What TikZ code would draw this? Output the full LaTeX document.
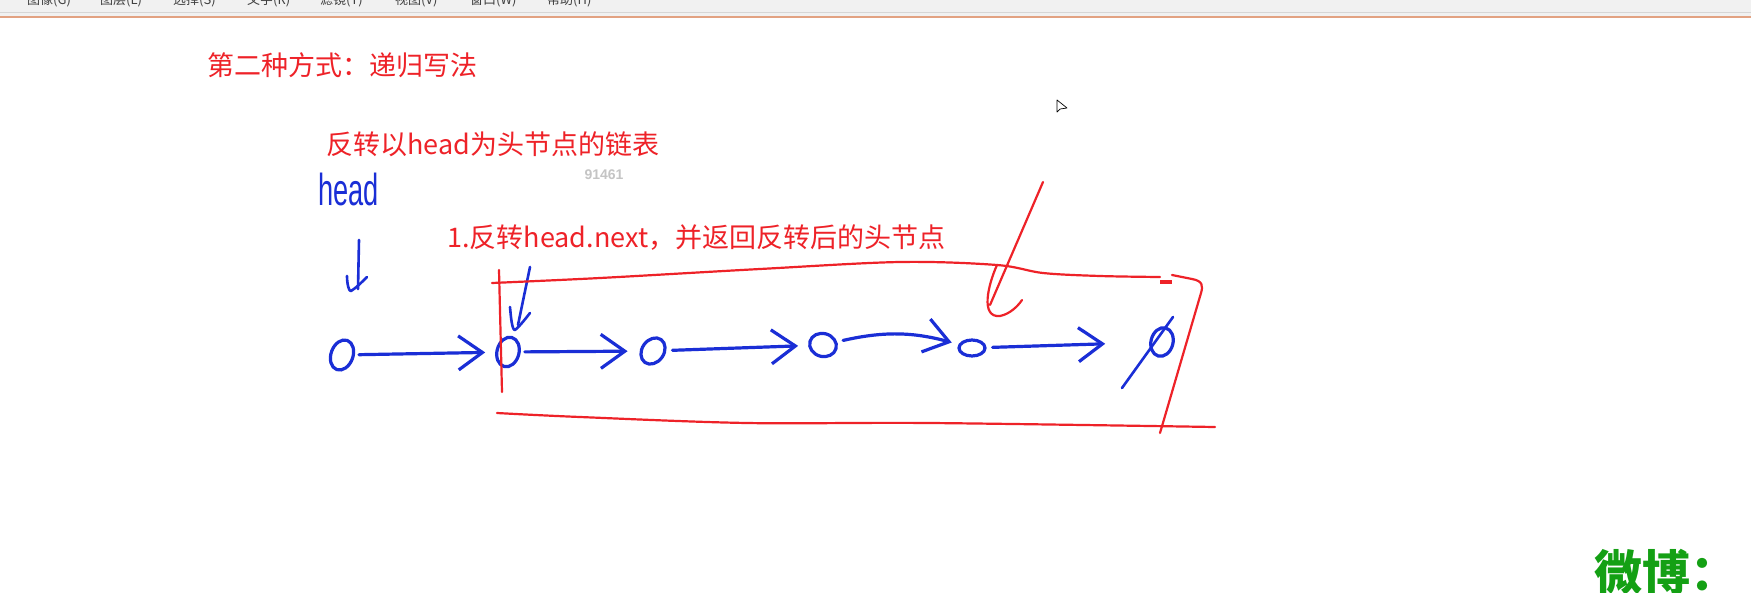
\documentclass[tikz,border=0pt]{standalone}
\usepackage{fontspec}
\setmainfont{Liberation Sans}
\newfontfamily\cjk{Noto Sans CJK SC}
\usetikzlibrary{arrows.meta,shapes.geometric,calc}
\definecolor{pen}{HTML}{1A2ED6}
\definecolor{ink}{HTML}{EE2228}
\definecolor{wb}{HTML}{14A014}
\definecolor{menubg}{HTML}{F1F1F1}
\definecolor{menuline}{HTML}{D6D6D6}
\definecolor{orangeline}{HTML}{E2A282}
\definecolor{faint}{HTML}{C4C4C4}
\begin{document}
\begin{tikzpicture}[x=1pt,y=-1pt,
  bluenode/.style={ellipse, draw=pen, line width=3.2pt, inner sep=0pt},
  link/.style={draw=pen, line width=3.2pt, line cap=round, line join=round,
    -{Straight Barb[length=24pt,width=34pt]}},
  bluestroke/.style={draw=pen, line width=2.6pt, line cap=round, line join=round},
  redline/.style={draw=ink, line width=2.2pt, line cap=round, line join=round},
  redtext/.style={text=ink, font=\cjk\fontsize{27}{30}\selectfont, inner sep=0pt, anchor=west},
  menuitem/.style={font=\cjk\fontsize{13}{15}\selectfont, text=black!75, anchor=base west, inner sep=0pt}]
\useasboundingbox (0,0) rectangle (1751,592);
\clip (0,0) rectangle (1751,592);
% background and menu bar
\fill[white] (0,0) rectangle (1751,592);
\fill[menubg] (0,0) rectangle (1751,16.5);
\draw[menuline, line width=0.8pt] (0,12.5) -- (1751,12.5);
\draw[orangeline, line width=1.2pt] (0,17) -- (1751,17);
\node[menuitem] (m1) at (27,4.5) {图像(G)};
\node[menuitem] (m2) at (100,4.5) {图层(L)};
\node[menuitem] (m3) at (173,4.5) {选择(S)};
\node[menuitem] (m4) at (247,4.5) {文字(R)};
\node[menuitem] (m5) at (320,4.5) {滤镜(T)};
\node[menuitem] (m6) at (395,4.5) {视图(V)};
\node[menuitem] (m7) at (470,4.5) {窗口(W)};
\node[menuitem] (m8) at (547,4.5) {帮助(H)};
% texts
\node[redtext] (title) at (207,65) {第二种方式：递归写法};
\node[redtext] (t1) at (326,144) {反转以head为头节点的链表};
\node[redtext] (t2) at (447,238) {1.反转head.next，并返回反转后的头节点};
\node[text=faint, font=\bfseries\fontsize{14}{16}\selectfont, inner sep=0pt] (wm) at (604,175) {91461};
\node[text=pen, font=\fontsize{40}{44}\selectfont, anchor=base west, inner sep=0pt] (headlbl) at (318,205) {\scalebox{0.68}[1.12]{head}};
\node[text=wb, font=\cjk\bfseries\fontsize{48}{52}\selectfont, anchor=base west, inner sep=0pt] (weibo) at (1594,590) {微博：};
% cursor
\draw[black, fill=white, line width=0.7pt, line join=round] (1057,100) -- (1057,112) -- (1060,109) -- (1067,108) -- cycle;
% list nodes
\node[bluenode, minimum width=22pt, minimum height=31pt, rotate=-20] (n1) at (342,355) {};
\node[bluenode, minimum width=22pt, minimum height=30pt, rotate=-15] (n2) at (508,352) {};
\node[bluenode, minimum width=22pt, minimum height=28pt, rotate=-35] (n3) at (653,351) {};
\node[bluenode, minimum width=27pt, minimum height=23pt, rotate=-15] (n4) at (823,345) {};
\node[bluenode, minimum width=26pt, minimum height=16pt] (n5) at (972,348) {};
\node[bluenode, minimum width=22pt, minimum height=29pt, rotate=-15] (n6) at (1162,342) {};
% links
\draw[link, shorten <=4pt, shorten >=10pt] (n1) -- (n2);
\draw[link, shorten <=4pt, shorten >=12pt] (n2) -- (n3);
\draw[link, shorten <=6pt, shorten >=10pt] (n3) -- (n4);
\draw[link, shorten <=6pt, shorten >=7pt] (n4) to[bend left=14] (n5);
\draw[link, shorten <=6pt, shorten >=44pt] (n5) -- (n6);
% null slash
\draw[bluestroke] (n6.center) ++(11,-25) -- ++(-51,71);
% head pointer
\coordinate (hp1) at (359,240);
\draw[bluestroke] (hp1) -- (358,289);
\draw[bluestroke] (347,276) .. controls (347,284) and (349,292) .. (351,291) .. controls (356,288) and (362,282) .. (367,277);
% pointer into second node
\coordinate (hp2) at (530,267);
\draw[bluestroke] (hp2) -- (518,325);
\draw[bluestroke] (510,307) .. controls (511,318) and (512,330) .. (515,330) .. controls (520,326) and (526,318) .. (530,313);
% red box
\draw[redline] (499,270) -- (502,392);
\draw[redline] plot[smooth, tension=0.55] coordinates {(492,283) (600,278) (760,269) (900,262) (997,265) (1043,273) (1100,276) (1160,277)};
\fill[ink] (1160,280) rectangle (1172,284);
\draw[redline] (1172,275) -- (1192,279) .. controls (1203,281) and (1203,286) .. (1201,293) -- (1160,433);
\draw[redline] plot[smooth, tension=0.55] coordinates {(497,413) (580,417) (747,423) (930,423) (1215,427)};
% red pointer
\coordinate (rp) at (1043,182);
\draw[redline] (rp) -- (990,305);
\draw[redline] (997,265) .. controls (988,285) and (980,318) .. (1000,316) .. controls (1010,314) and (1018,306) .. (1022,300);
\end{tikzpicture}
\end{document}
